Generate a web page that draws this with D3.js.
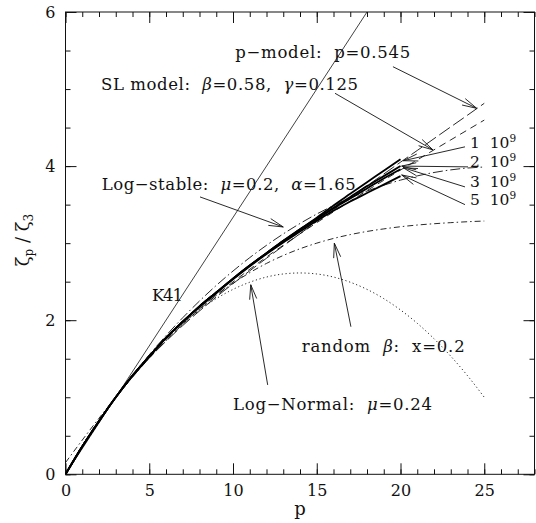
<!DOCTYPE html>
<html>
<head>
<meta charset="utf-8">
<script src="https://cdn.jsdelivr.net/npm/d3@7"></script>
<style>
  html, body { margin: 0; padding: 0; background: #fff; }
  svg { display: block; }
  text { font-family: "DejaVu Serif", "Liberation Serif", serif; fill: #111; }
</style>
</head>
<body>
<svg id="chart" width="536" height="523"></svg>
<script>
// Orders of the structure functions
const orders = [0, 1, 2, 3, 4, 5, 6, 7, 8, 9, 10, 11, 12, 13, 14, 15, 16, 17, 18, 19, 20, 21, 22, 23, 24, 25];
const dataOrders = [0, 1, 2, 3, 4, 5, 6, 7, 8, 9, 10, 11, 12, 13, 14, 15, 16, 17, 18, 19, 20];

// K41 straight line endpoints
const k41P = [0, 18];
const k41Zeta = [0, 6];

// Model predictions for zeta_p / zeta_3
const pModel = [0, 0.370, 0.702, 1.0, 1.267, 1.508, 1.727, 1.931, 2.120, 2.301, 2.474, 2.641, 2.804, 2.964, 3.122, 3.279, 3.434, 3.589, 3.744, 3.897, 4.051, 4.203, 4.356, 4.509, 4.661, 4.815];
const slModel = [0, 0.372, 0.703, 1.0, 1.268, 1.513, 1.738, 1.946, 2.140, 2.323, 2.496, 2.661, 2.820, 2.973, 3.121, 3.265, 3.407, 3.545, 3.682, 3.816, 3.949, 4.080, 4.211, 4.340, 4.469, 4.597];
const logStable = [0, 0.363, 0.694, 1.0, 1.285, 1.551, 1.800, 2.032, 2.249, 2.451, 2.638, 2.812, 2.972, 3.120, 3.255, 3.378, 3.488, 3.588, 3.676, 3.752, 3.818, 3.873, 3.917, 3.951, 3.975, 3.988];
const randomBeta = [0.152, 0.444, 0.728, 1.0, 1.260, 1.507, 1.737, 1.950, 2.146, 2.322, 2.479, 2.617, 2.737, 2.840, 2.927, 3.000, 3.061, 3.111, 3.152, 3.185, 3.213, 3.235, 3.252, 3.266, 3.278, 3.287];
const logNormal = [0, 0.360, 0.693, 1.0, 1.280, 1.533, 1.760, 1.960, 2.133, 2.280, 2.400, 2.493, 2.560, 2.600, 2.613, 2.600, 2.560, 2.493, 2.400, 2.280, 2.133, 1.960, 1.760, 1.533, 1.280, 1.0];

// Measured exponents at four Reynolds numbers
const re1e9 = [0, 0.36, 0.69, 1.0, 1.28, 1.53, 1.77, 1.98, 2.18, 2.36, 2.54, 2.71, 2.87, 3.03, 3.18, 3.33, 3.49, 3.64, 3.79, 3.94, 4.09];
const re2e9 = [0, 0.36, 0.69, 1.0, 1.28, 1.53, 1.77, 1.98, 2.18, 2.36, 2.54, 2.71, 2.87, 3.03, 3.18, 3.32, 3.46, 3.60, 3.74, 3.87, 4.00];
const re3e9 = [0, 0.36, 0.69, 1.0, 1.28, 1.53, 1.77, 1.98, 2.18, 2.36, 2.54, 2.71, 2.87, 3.02, 3.17, 3.31, 3.45, 3.58, 3.71, 3.84, 3.96];
const re5e9 = [0, 0.36, 0.69, 1.0, 1.28, 1.53, 1.77, 1.98, 2.17, 2.35, 2.53, 2.70, 2.86, 3.01, 3.15, 3.29, 3.42, 3.54, 3.65, 3.76, 3.87];

// Axis ticks
const xMajorTicks = [0, 5, 10, 15, 20, 25];
const yMajorTicks = [0, 2, 4, 6];

// Annotation text (anchor in data units, left edge / baseline)
const labelTexts = ["p−model:  p=0.545", "SL model:  β=0.58,  γ=0.125", "Log−stable:  μ=0.2,  α=1.65", "K41", "random  β:  x=0.2", "Log−Normal:  μ=0.24"];
const labelAt = [[10.13, 5.40], [2.12, 4.99], [2.16, 3.69], [5.16, 2.25], [14.10, 1.587], [10.0, 0.836]];
const labelWidths = [175, 257, 254, 31, 163, 199];
const reLabels = ["1", "2", "3", "5"];
const reLabelAt = [[24.15, 4.235], [24.15, 3.99], [24.15, 3.735], [24.15, 3.495]];

// Arrows: [from p, from zeta, to p, to zeta]
const arrows = [
  [19.55, 5.29, 24.55, 4.75],
  [16.09, 4.945, 21.94, 4.21],
  [23.85, 4.25, 20.17, 4.07],
  [24.03, 3.99, 20.07, 4.00],
  [23.85, 3.73, 20.15, 3.98],
  [23.85, 3.50, 20.07, 3.885],
  [8.03, 3.60, 13.0, 3.21],
  [17.04, 1.915, 16.05, 3.0],
  [12.07, 1.16, 11.06, 2.46]
];

const svg = d3.select("#chart");
const frameLeft = 65.5, frameRight = 534.5, frameTop = 12, frameBottom = 474.3;

const x = d3.scaleLinear().domain([0, 28]).range([frameLeft, frameRight]);
const y = d3.scaleLinear().domain([0, 6]).range([frameBottom, frameTop]);

// Clip so the K41 line stops at the frame
svg.append("clipPath").attr("id", "plot-clip")
  .append("rect").attr("x", frameLeft).attr("y", frameTop)
  .attr("width", frameRight - frameLeft).attr("height", frameBottom - frameTop);

// Frame
svg.append("rect")
  .attr("x", frameLeft).attr("y", frameTop)
  .attr("width", frameRight - frameLeft).attr("height", frameBottom - frameTop)
  .attr("fill", "none").attr("stroke", "#111").attr("stroke-width", 1);

// Axes with inward ticks on all four sides
function styleAxis(g) {
  g.select(".domain").remove();
  g.selectAll(".tick line").attr("stroke", "#111").attr("stroke-width", 1);
  g.selectAll("text").style("font-family", '"DejaVu Serif", serif').style("font-size", "16px").attr("fill", "#111");
}
const xMinor = d3.range(0, 29, 1);
const yMinor = d3.range(0, 6.01, 0.5);

svg.append("g").attr("transform", `translate(0,${frameBottom})`)
  .call(d3.axisBottom(x).tickValues(xMinor).tickSize(-5).tickFormat("")).call(styleAxis);
svg.append("g").attr("transform", `translate(0,${frameBottom})`)
  .call(d3.axisBottom(x).tickValues(xMajorTicks).tickSize(-11).tickPadding(10).tickFormat(d3.format("d"))).call(styleAxis);
svg.append("g").attr("transform", `translate(0,${frameTop})`)
  .call(d3.axisTop(x).tickValues(xMinor).tickSize(-5).tickFormat("")).call(styleAxis);
svg.append("g").attr("transform", `translate(0,${frameTop})`)
  .call(d3.axisTop(x).tickValues(xMajorTicks).tickSize(-11).tickFormat("")).call(styleAxis);

svg.append("g").attr("transform", `translate(${frameLeft},0)`)
  .call(d3.axisLeft(y).tickValues(yMinor).tickSize(-5).tickFormat("")).call(styleAxis);
svg.append("g").attr("transform", `translate(${frameLeft},0)`)
  .call(d3.axisLeft(y).tickValues(yMajorTicks).tickSize(-11).tickPadding(10).tickFormat(d3.format("d"))).call(styleAxis);
svg.append("g").attr("transform", `translate(${frameRight},0)`)
  .call(d3.axisRight(y).tickValues(yMinor).tickSize(-5).tickFormat("")).call(styleAxis);
svg.append("g").attr("transform", `translate(${frameRight},0)`)
  .call(d3.axisRight(y).tickValues(yMajorTicks).tickSize(-11).tickFormat("")).call(styleAxis);

// Axis titles
svg.append("text").attr("x", x(14)).attr("y", 515).attr("text-anchor", "middle")
  .style("font-size", "18px").text("p");
const yt = svg.append("text").attr("transform", "translate(29,240) rotate(-90)")
  .attr("text-anchor", "middle").style("font-size", "18px");
yt.append("tspan").text("ζ");
yt.append("tspan").attr("dy", 4).style("font-size", "12px").text("p");
yt.append("tspan").attr("dy", -4).text(" / ζ");
yt.append("tspan").attr("dy", 4).style("font-size", "12px").text("3");

// Curves
const plot = svg.append("g").attr("clip-path", "url(#plot-clip)");
const line = d3.line().x(d => x(d[0])).y(d => y(d[1])).curve(d3.curveMonotoneX);
const pairs = (ps, vs) => ps.map((pp, i) => [pp, vs[i]]);

plot.append("path").datum(pairs(k41P, k41Zeta))
  .attr("d", d3.line().x(d => x(d[0])).y(d => y(d[1])))
  .attr("fill", "none").attr("stroke", "#111").attr("stroke-width", 0.8);

const models = [
  { v: logNormal, dash: "1.2,2.6" },
  { v: randomBeta, dash: "6,3,1.5,3" },
  { v: logStable, dash: "10,3,1.5,3" },
  { v: slModel, dash: "7,5" },
  { v: pModel, dash: "13,4" }
];
models.forEach(m => {
  plot.append("path").datum(pairs(orders, m.v))
    .attr("d", line).attr("fill", "none").attr("stroke", "#111")
    .attr("stroke-width", 0.9).attr("stroke-dasharray", m.dash);
});

[re1e9, re2e9, re3e9, re5e9].forEach(v => {
  plot.append("path").datum(pairs(dataOrders, v))
    .attr("d", line).attr("fill", "none").attr("stroke", "#000")
    .attr("stroke-width", 1.8);
});

// Arrows with open heads
const ag = svg.append("g").attr("stroke", "#111").attr("stroke-width", 0.9).attr("fill", "none");
arrows.forEach(a => {
  const x1 = x(a[0]), y1 = y(a[1]), x2 = x(a[2]), y2 = y(a[3]);
  ag.append("line").attr("x1", x1).attr("y1", y1).attr("x2", x2).attr("y2", y2);
  const ang = Math.atan2(y1 - y2, x1 - x2), L = 15, w = 0.24;
  [-w, w].forEach(s => {
    ag.append("line").attr("x1", x2).attr("y1", y2)
      .attr("x2", x2 + L * Math.cos(ang + s)).attr("y2", y2 + L * Math.sin(ang + s));
  });
});

// Labels, with Greek symbols set in italics
const tg = svg.append("g").style("font-size", "16.5px");
labelTexts.forEach((t, i) => {
  const el = tg.append("text").attr("x", x(labelAt[i][0])).attr("y", y(labelAt[i][1]))
    .attr("xml:space", "preserve").attr("textLength", labelWidths[i]).attr("lengthAdjust", "spacing");
  t.split(/([βγμα])/).forEach(part => {
    if (!part) return;
    const ts = el.append("tspan").text(part);
    if (/^[βγμα]$/.test(part)) ts.style("font-style", "italic");
  });
});
reLabels.forEach((t, i) => {
  const el = tg.append("text").attr("x", x(reLabelAt[i][0])).attr("y", y(reLabelAt[i][1]))
    .attr("xml:space", "preserve").style("font-size", "15.5px");
  el.append("tspan").text(t + "  10");
  el.append("tspan").attr("dy", -6).style("font-size", "10.5px").text("9");
});
</script>
</body>
</html>
